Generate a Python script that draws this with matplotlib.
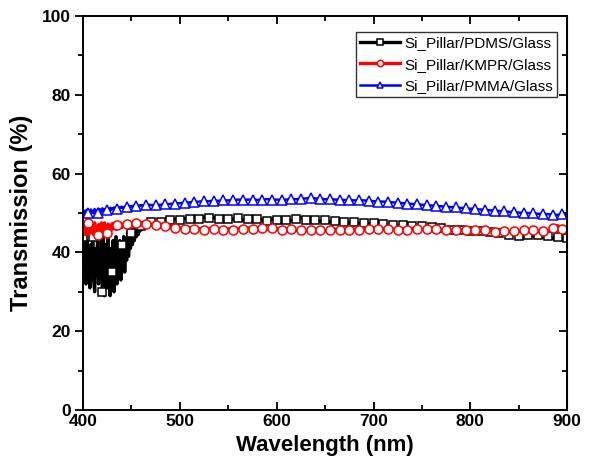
import matplotlib
matplotlib.use("Agg")
import matplotlib.pyplot as plt
import numpy as np
from matplotlib.ticker import MultipleLocator

plt.rcParams['font.family'] = ['Liberation Sans', 'DejaVu Sans']

# wavelength grid: 1 nm steps over the noisy blue end, 5 nm after that
wl_fine = list(range(400, 471))
wl_coarse = list(range(475, 901, 5))
wavelength = np.array(wl_fine + wl_coarse)

pdms_fine = [44, 36, 41, 32, 43, 34, 40, 31, 42, 35,
             44, 33, 30, 41, 36, 43, 32, 40, 34, 44,
             30, 45, 29, 38, 42, 31, 44, 33, 29, 41,
             35, 43, 30, 37, 44, 32, 40, 34, 43, 33,
             42, 36, 44, 35, 41, 38, 45, 39, 44, 41,
             45, 42, 46, 43, 45.5, 44, 46.5, 44.5, 46, 45.5,
             46.8, 45.8, 47, 46.2, 47.2, 46.6, 47.4, 47, 47.5, 47.2, 47.6]
pdms_coarse = [47.5, 47.8, 48, 48.2, 48.5, 48.3, 48.6, 48.5, 48.8, 48.5, 49, 48.7, 48.9, 48.5,
               48.8, 48.6, 48.4, 48.7, 48.2, 48.5, 48.3, 48.6, 48.2, 48, 48.5, 48.2, 47.8, 48.3,
               48, 48.5, 48.8, 48.3, 48.6, 48.1, 47.9, 48.2, 47.7, 47.9, 47.5, 47.8, 47.4, 47.6,
               47.3, 47.5, 47.2, 47.4, 47, 47.2, 46.8, 47, 46.6, 46.9, 46.5, 46.8, 46.4, 46.6,
               46.2, 46.5, 46, 46.3, 46.1, 45.8, 45.9, 45.6, 45.4, 45.5, 45.1, 45.4, 45, 45.2,
               44.8, 45, 44.6, 44.3, 44.7, 44.2, 44.5, 44.4, 44, 44.3, 43.9, 44.1, 43.6, 43.8,
               43.4, 43.6]

kmpr_fine = [45, 47, 44.5, 46.5, 45.5, 47.5, 44.5, 46.5, 47, 45,
             46.5, 44.5, 47.5, 45.5, 46.5, 44.5, 47, 45.5, 46, 47.5,
             45, 46.5, 47.5, 45.5, 46.8, 45, 47.2, 46, 46.8, 45.5,
             47.3, 46, 46.8, 47.5, 45.8, 47, 46.2, 47.2, 46.5, 47.4,
             46.3, 47, 46.8, 47.5, 46.5, 47.2, 46.8, 47.6, 46.7, 47.3,
             46.9, 47.4, 46.8, 47.2, 47, 47.4, 46.9, 47.3, 47.1, 47.4,
             47, 47.3, 47.1, 47.4, 47, 47.3, 47.2, 47.4, 47.1, 47.3, 47.2]
kmpr_coarse = [47, 47.2, 46.8, 46.5, 46.3, 46.2, 46, 46.2, 45.9, 46, 45.8, 46.1, 45.9, 46, 45.7,
               46, 45.8, 46.1, 45.9, 46.2, 46, 46.3, 46.1, 45.9, 46.2, 46, 45.8, 45.7, 45.9, 45.6,
               45.8, 45.5, 45.7, 45.6, 45.8, 45.5, 45.7, 45.9, 45.6, 45.8, 45.7, 45.9, 45.7, 45.8,
               46, 45.7, 45.9, 45.8, 46, 45.9, 45.7, 46, 45.8, 46.1, 46, 45.8, 46, 45.7, 45.9, 45.6,
               45.8, 45.5, 45.7, 45.6, 45.8, 45.5, 45.7, 45.4, 45.6, 45.5, 45.3, 45.6, 45.4, 45.2,
               45.5, 45.3, 45.6, 45.4, 45.7, 45.3, 45.5, 45.2, 46.3, 46.8, 46, 46.5]

pmma_fine = [50.3, 49.6, 50.6, 49.8, 50.8, 50, 50.5, 49.7, 50.9, 50.1,
             50.6, 49.9, 51, 50.2, 50.7, 50.1, 51.1, 50.4, 50.9, 50.3,
             51.2, 50.5, 50.9, 50.4, 51.2, 50.7, 51, 50.6, 51.3, 50.8,
             51.2, 50.9, 51.4, 51, 51.3, 51.1, 51.5, 51.2, 51.4, 51.3,
             51.6, 51.3, 51.5, 51.4, 51.7, 51.5, 51.6, 51.5, 51.8, 51.6,
             51.7, 51.6, 51.9, 51.7, 51.8, 51.7, 52, 51.8, 51.9, 51.8,
             52, 51.9, 52, 51.9, 52.1, 52, 52, 52.1, 52, 52.1, 52]
pmma_coarse = [52, 52.1, 52.2, 52.3, 52.4, 52.5, 52.6, 52.7, 52.8, 52.9, 53, 53, 53.1, 53.1,
               53.2, 53.2, 53.3, 53.4, 53.3, 53.4, 53.4, 53.3, 53.4, 53.5, 53.4, 53.4, 53.3,
               53.4, 53.5, 53.5, 53.6, 53.7, 53.8, 53.7, 53.6, 53.5, 53.5, 53.4, 53.4, 53.3,
               53.3, 53.2, 53.3, 53.2, 53.1, 53, 52.9, 52.9, 52.8, 52.7, 52.6, 52.5, 52.4, 52.3,
               52.2, 52.1, 52, 51.9, 51.8, 51.7, 51.6, 51.5, 51.4, 51.3, 51.2, 51.1, 51, 50.9,
               50.8, 50.7, 50.6, 50.5, 50.4, 50.3, 50.2, 50.1, 50, 50, 49.9, 49.8, 49.8, 49.7,
               49.6, 49.5, 49.8, 49.6]

series = [
    ("Si_Pillar/PDMS/Glass", pdms_fine + pdms_coarse, "black", "s", 0, 2.4, 6.0),
    ("Si_Pillar/KMPR/Glass", kmpr_fine + kmpr_coarse, "red", "o", 5, 2.4, 6.5),
    ("Si_Pillar/PMMA/Glass", pmma_fine + pmma_coarse, "blue", "^", 5, 1.8, 6.8),
]

fig = plt.figure(figsize=(5.89, 4.71), dpi=100)
ax = fig.add_axes([0.141, 0.1295, 0.822, 0.8365])

for label, vals, color, marker, off, lw, ms in series:
    # a marker every 10 nm
    every = [i for i, w in enumerate(wavelength) if (w - off) % 10 == 0]
    ax.plot(wavelength, vals, color=color, lw=lw, marker=marker, markevery=every,
            ms=ms, mfc="white", mec=color, mew=1.1, label=label)

ax.set_xlim(400, 900)
ax.set_ylim(0, 100)
ax.xaxis.set_major_locator(MultipleLocator(100))
ax.xaxis.set_minor_locator(MultipleLocator(50))
ax.yaxis.set_major_locator(MultipleLocator(20))
ax.yaxis.set_minor_locator(MultipleLocator(10))

ax.tick_params(axis="x", which="both", direction="in", top=True, width=1.3)
ax.tick_params(axis="y", which="both", direction="out", width=1.3)
ax.tick_params(which="major", length=6, labelsize=12.5, pad=3)
ax.tick_params(which="minor", length=3.5)
for lab in ax.get_xticklabels() + ax.get_yticklabels():
    lab.set_fontweight("bold")
for sp in ax.spines.values():
    sp.set_linewidth(1.4)

# right spine ticks point inward
sec = ax.secondary_yaxis("right")
sec.yaxis.set_major_locator(MultipleLocator(20))
sec.yaxis.set_minor_locator(MultipleLocator(10))
sec.tick_params(which="both", direction="in", labelright=False, width=1.3)
sec.tick_params(which="major", length=6)
sec.tick_params(which="minor", length=3.5)

ax.set_xlabel("Wavelength (nm)", fontsize=16, fontweight="bold", labelpad=4)
ax.set_ylabel("Transmission (%)", fontsize=17, fontweight="bold", labelpad=6)

leg = ax.legend(loc="upper right", bbox_to_anchor=(0.979, 0.959), fontsize=11,
                frameon=True, fancybox=False, edgecolor="black", handlelength=2.6,
                borderpad=0.25, labelspacing=0.5, handletextpad=0.3, borderaxespad=0,
                markerscale=0.7)
leg.get_frame().set_linewidth(1.0)

fig.savefig("out.png", dpi=100)
